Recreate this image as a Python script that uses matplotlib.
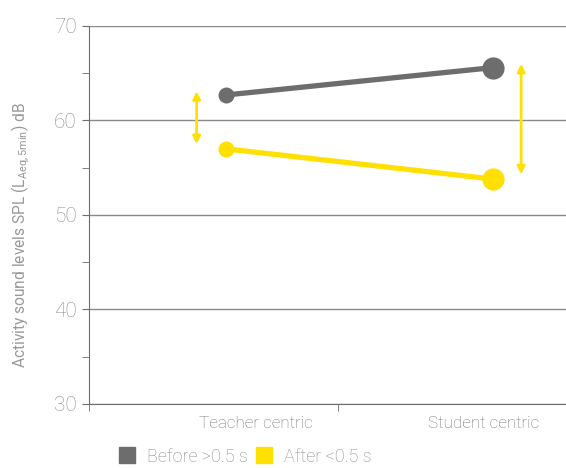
import matplotlib.pyplot as plt
from matplotlib.lines import Line2D

categories = ["Teacher centric", "Student centric"]
before = [62.7, 65.6]
after = [57.0, 53.8]
series_names = ["Before >0.5 s", "After <0.5 s"]

GREY = "#6d6d6d"
YELLOW = "#ffe000"
plt.rcParams['font.family'] = ['Roboto', 'DejaVu Sans']
plt.rcParams['font.weight'] = 'light'

fig = plt.figure(figsize=(5.66, 4.68), dpi=100)
ax = fig.add_axes([89 / 566, 64 / 468, 477 / 566, 378 / 468])

xpos = [1, 2]
msizes = [11.5, 16]
ax.plot(xpos, before, color=GREY, lw=3.8, zorder=3)
ax.plot(xpos, after, color=YELLOW, lw=3.8, zorder=3)
for x, b, a, ms in zip(xpos, before, after, msizes):
    ax.plot(x, b, 'o', color=GREY, ms=ms, mec='none', zorder=4)
    ax.plot(x, a, 'o', color=YELLOW, ms=ms, mec='none', zorder=4)

# difference arrows
arrow_x = [0.89, 2.105]
for x, b, a in zip(arrow_x, before, after):
    ax.annotate("", xy=(x, max(b, a) + 0.4), xytext=(x, min(b, a) + 0.5),
                arrowprops=dict(arrowstyle='<|-|>', color=YELLOW, lw=2,
                                mutation_scale=11, shrinkA=0, shrinkB=0))

ax.set_xlim(0.487, 2.273)
ax.set_ylim(30, 70)
ax.set_yticks([30, 40, 50, 60, 70])
ax.set_yticks([35, 45, 55, 65], minor=True)
ax.yaxis.grid(True, color="#8a8a8a", lw=1)
ax.set_axisbelow(True)
ax.tick_params(axis='y', which='both', direction='out', length=5, color=GREY,
               labelsize=15, labelcolor="#8f8f8f", pad=4)

ax.set_xticks([1.11, 1.966])
ax.set_xticklabels(categories)
ax.set_xticks([0.487, 1.42], minor=True)
ax.tick_params(axis='x', which='major', length=0, labelsize=12.3,
               labelcolor="#767676", pad=9)
ax.tick_params(axis='x', which='minor', direction='out', length=5, color=GREY)

for s in ['top', 'right']:
    ax.spines[s].set_visible(False)
ax.spines['left'].set_color(GREY)
ax.spines['bottom'].set_color(GREY)

ax.set_ylabel(r"Activity sound levels SPL (L$_{\mathregular{Aeq,5min}}$) dB",
              fontsize=11.2, color="#999999")
ax.yaxis.set_label_coords(-0.12, 0.447)

handles = [Line2D([], [], marker='s', ls='none', color=c, ms=11)
           for c in [GREY, YELLOW]]
fig.legend(handles, series_names, loc='lower left', ncol=2, frameon=False,
           bbox_to_anchor=(100 / 566, -0.03), fontsize=13, labelcolor="#8a8a8a",
           handletextpad=0.5, columnspacing=0.3, handlelength=1.2)

fig.savefig("out.png", dpi=100)
